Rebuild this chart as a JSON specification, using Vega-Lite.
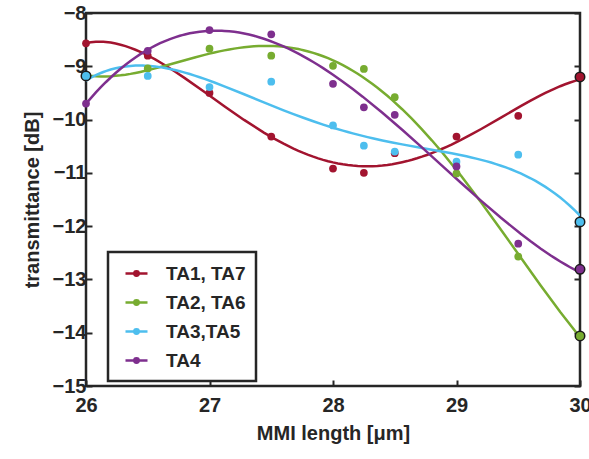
{
  "$schema": "https://vega.github.io/schema/vega-lite/v6.json",
  "width": 494,
  "height": 373,
  "autosize": {"type": "none"},
  "padding": {"left": 86, "top": 13, "right": 9, "bottom": 73},
  "background": "white",
  "config": {
    "font": "Liberation Sans",
    "view": {"stroke": "#262626", "strokeWidth": 2.5},
    "axis": {
      "domain": false,
      "grid": false,
      "ticks": true,
      "tickColor": "#262626",
      "tickWidth": 2,
      "tickSize": 6,
      "offset": -6,
      "zindex": 1,
      "labelFlush": false,
      "labelFont": "Liberation Sans",
      "labelFontSize": 20,
      "labelFontWeight": "bold",
      "labelColor": "#262626",
      "titleFont": "Liberation Sans",
      "titleFontSize": 20,
      "titleFontWeight": "bold",
      "titleColor": "#262626"
    }
  },
  "data": {
    "values": [
      {"x": 26, "y": -8.57, "s": "TA1, TA7"},
      {"x": 26.5, "y": -8.80, "s": "TA1, TA7"},
      {"x": 27, "y": -9.50, "s": "TA1, TA7"},
      {"x": 27.5, "y": -10.32, "s": "TA1, TA7"},
      {"x": 28, "y": -10.92, "s": "TA1, TA7"},
      {"x": 28.25, "y": -11.00, "s": "TA1, TA7"},
      {"x": 28.5, "y": -10.63, "s": "TA1, TA7"},
      {"x": 29, "y": -10.32, "s": "TA1, TA7"},
      {"x": 29.5, "y": -9.93, "s": "TA1, TA7"},
      {"x": 30, "y": -9.20, "s": "TA1, TA7"},
      {"x": 26, "y": -9.19, "s": "TA2, TA6"},
      {"x": 26.5, "y": -9.04, "s": "TA2, TA6"},
      {"x": 27, "y": -8.67, "s": "TA2, TA6"},
      {"x": 27.5, "y": -8.80, "s": "TA2, TA6"},
      {"x": 28, "y": -8.99, "s": "TA2, TA6"},
      {"x": 28.25, "y": -9.05, "s": "TA2, TA6"},
      {"x": 28.5, "y": -9.58, "s": "TA2, TA6"},
      {"x": 29, "y": -11.01, "s": "TA2, TA6"},
      {"x": 29.5, "y": -12.57, "s": "TA2, TA6"},
      {"x": 30, "y": -14.06, "s": "TA2, TA6"},
      {"x": 26, "y": -9.18, "s": "TA3,TA5"},
      {"x": 26.5, "y": -9.18, "s": "TA3,TA5"},
      {"x": 27, "y": -9.39, "s": "TA3,TA5"},
      {"x": 27.5, "y": -9.29, "s": "TA3,TA5"},
      {"x": 28, "y": -10.11, "s": "TA3,TA5"},
      {"x": 28.25, "y": -10.49, "s": "TA3,TA5"},
      {"x": 28.5, "y": -10.60, "s": "TA3,TA5"},
      {"x": 29, "y": -10.79, "s": "TA3,TA5"},
      {"x": 29.5, "y": -10.66, "s": "TA3,TA5"},
      {"x": 30, "y": -11.92, "s": "TA3,TA5"},
      {"x": 26, "y": -9.70, "s": "TA4"},
      {"x": 26.5, "y": -8.71, "s": "TA4"},
      {"x": 27, "y": -8.32, "s": "TA4"},
      {"x": 27.5, "y": -8.40, "s": "TA4"},
      {"x": 28, "y": -9.33, "s": "TA4"},
      {"x": 28.25, "y": -9.77, "s": "TA4"},
      {"x": 28.5, "y": -9.91, "s": "TA4"},
      {"x": 29, "y": -10.88, "s": "TA4"},
      {"x": 29.5, "y": -12.33, "s": "TA4"},
      {"x": 30, "y": -12.81, "s": "TA4"}
    ]
  },
  "layer": [
    {
      "transform": [
        {"regression": "y", "on": "x", "groupby": ["s"], "method": "poly", "order": 4, "extent": [26, 30]}
      ],
      "mark": {"type": "line", "strokeWidth": 2.5, "clip": true},
      "encoding": {
        "x": {"field": "x", "type": "quantitative", "scale": {"domain": [26, 30], "nice": false},
              "axis": {"title": "MMI length  [μm]", "values": [26, 27, 28, 29, 30], "format": "d", "labelPadding": 9, "titlePadding": 8}},
        "y": {"field": "y", "type": "quantitative", "scale": {"domain": [-15, -8], "nice": false},
              "axis": {"title": "transmittance [dB]", "values": [-15, -14, -13, -12, -11, -10, -9, -8], "labelPadding": 0, "titlePadding": 10}},
        "color": {
          "field": "s", "type": "nominal",
          "scale": {"domain": ["TA1, TA7", "TA2, TA6", "TA3,TA5", "TA4"], "range": ["#A2142F", "#77AC30", "#4DBEEE", "#7E2F8E"]},
          "legend": {
            "title": null,
            "orient": "none",
            "legendX": 22,
            "legendY": 239,
            "fillColor": "white",
            "padding": 10,
            "symbolType": "M-1.1,0H1.1M-0.22,0A0.22,0.22,0,1,1,0.22,0A0.22,0.22,0,1,1,-0.22,0Z",
            "symbolSize": 400,
            "symbolOffset": 7,
            "symbolStrokeWidth": 2.5,
            "labelFontSize": 19,
            "labelFontWeight": "bold",
            "labelColor": "#262626",
            "labelOffset": 18,
            "rowPadding": 7,
            "labelLimit": 200,
            "encode": {
              "legend": {"update": {"stroke": {"value": "#262626"}, "strokeWidth": {"value": 2.5}}},
              "symbols": {"update": {"fill": {"field": "value", "scale": "color"}, "fillOpacity": {"value": 1}}}
            }
          }
        }
      }
    },
    {
      "mark": {"type": "point", "filled": true, "size": 60, "opacity": 1},
      "encoding": {
        "x": {"field": "x", "type": "quantitative"},
        "y": {"field": "y", "type": "quantitative", "scale": {"domain": [-15, -8], "nice": false},
              "axis": {"orient": "right", "labels": false, "title": null, "ticks": true, "tickSize": 6, "offset": -6, "values": [-15, -14, -13, -12, -11, -10, -9, -8]}},
        "color": {"field": "s", "type": "nominal"}
      }
    },
    {
      "transform": [{"filter": "datum.x == 30 || (datum.x == 26 && datum.s == 'TA3,TA5')"}],
      "mark": {"type": "point", "filled": true, "size": 90, "opacity": 1, "stroke": "#1a1a1a", "strokeWidth": 1.5},
      "encoding": {
        "x": {"field": "x", "type": "quantitative"},
        "y": {"field": "y", "type": "quantitative", "scale": {"domain": [-15, -8], "nice": false}, "axis": null},
        "fill": {"field": "s", "type": "nominal", "scale": {"domain": ["TA1, TA7", "TA2, TA6", "TA3,TA5", "TA4"], "range": ["#A2142F", "#77AC30", "#4DBEEE", "#7E2F8E"]}, "legend": null}
      }
    }
  ],
  "resolve": {"scale": {"y": "independent"}}
}
